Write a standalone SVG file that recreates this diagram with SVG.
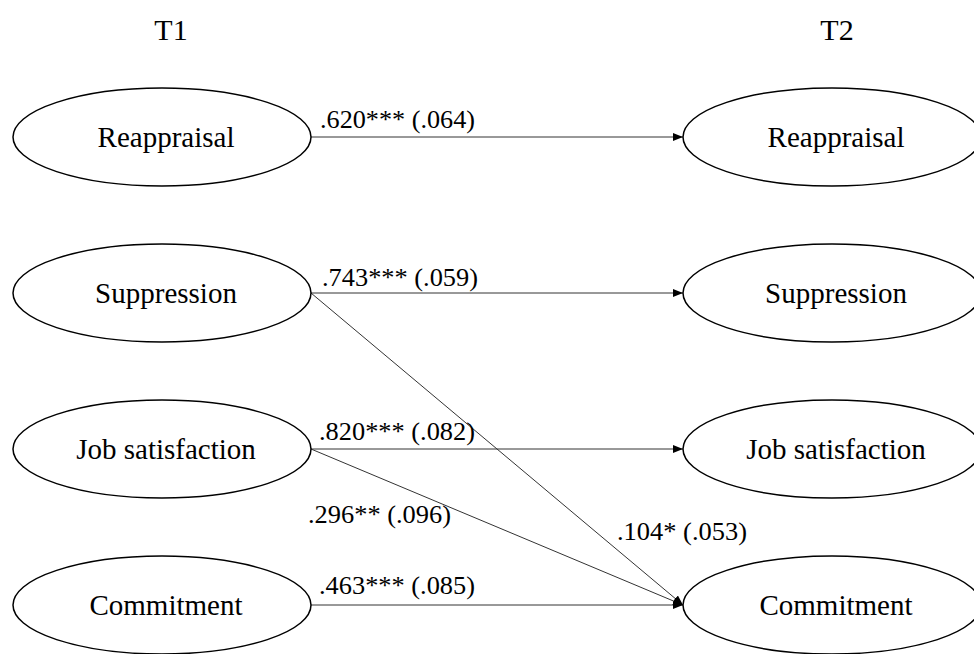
<svg xmlns="http://www.w3.org/2000/svg" width="974" height="654" viewBox="0 0 974 654">
<defs>
<style>
.node ellipse{fill:#fff;stroke:#000;stroke-width:1.5}
.node text{font-family:"Liberation Serif","Times New Roman",serif;font-size:29px;fill:#000;text-anchor:middle}
.hdr{font-family:"Liberation Serif","Times New Roman",serif;font-size:30px;fill:#000;text-anchor:middle}
.lbl{font-family:"Liberation Serif","Times New Roman",serif;font-size:26px;fill:#000}
.edge{stroke:#333;stroke-width:1;fill:none;marker-end:url(#arr)}
</style>
<marker id="arr" viewBox="0 0 10 8" refX="10" refY="4" markerWidth="10" markerHeight="8" markerUnits="userSpaceOnUse" orient="auto">
<path d="M0,0 L10,4 L0,8 z" fill="#000"/>
</marker>
</defs>
<rect width="974" height="654" fill="#fff"/>
<text class="hdr" x="171" y="40">T1</text>
<text class="hdr" x="837" y="40">T2</text>
<g id="edges">
<line class="edge" x1="311" y1="137" x2="683" y2="137"/>
<line class="edge" x1="311" y1="293" x2="683" y2="293"/>
<line class="edge" x1="311" y1="449" x2="683" y2="449"/>
<line class="edge" x1="311" y1="605" x2="683" y2="605"/>
<line class="edge" x1="311" y1="293" x2="683" y2="605"/>
<line class="edge" x1="311" y1="449" x2="683" y2="605"/>
<text class="lbl" x="320" y="128" textLength="155" lengthAdjust="spacingAndGlyphs">.620*** (.064)</text>
<text class="lbl" x="322" y="286" textLength="156" lengthAdjust="spacingAndGlyphs">.743*** (.059)</text>
<text class="lbl" x="319" y="440" textLength="156" lengthAdjust="spacingAndGlyphs">.820*** (.082)</text>
<text class="lbl" x="308" y="523" textLength="143" lengthAdjust="spacingAndGlyphs">.296** (.096)</text>
<text class="lbl" x="617" y="540" textLength="130" lengthAdjust="spacingAndGlyphs">.104* (.053)</text>
<text class="lbl" x="319" y="594" textLength="156" lengthAdjust="spacingAndGlyphs">.463*** (.085)</text>
</g>
<g id="t1-reappraisal" class="node"><ellipse cx="162" cy="137" rx="149" ry="49"/><text x="166" y="147">Reappraisal</text></g>
<g id="t1-suppression" class="node"><ellipse cx="162" cy="293" rx="149" ry="49"/><text x="166" y="303">Suppression</text></g>
<g id="t1-job" class="node"><ellipse cx="162" cy="449" rx="149" ry="49"/><text x="166" y="459">Job satisfaction</text></g>
<g id="t1-commitment" class="node"><ellipse cx="162" cy="605" rx="149" ry="49"/><text x="166" y="615">Commitment</text></g>
<g id="t2-reappraisal" class="node"><ellipse cx="832" cy="137" rx="149" ry="49"/><text x="836" y="147">Reappraisal</text></g>
<g id="t2-suppression" class="node"><ellipse cx="832" cy="293" rx="149" ry="49"/><text x="836" y="303">Suppression</text></g>
<g id="t2-job" class="node"><ellipse cx="832" cy="449" rx="149" ry="49"/><text x="836" y="459">Job satisfaction</text></g>
<g id="t2-commitment" class="node"><ellipse cx="832" cy="605" rx="149" ry="49"/><text x="836" y="615">Commitment</text></g>
</svg>
